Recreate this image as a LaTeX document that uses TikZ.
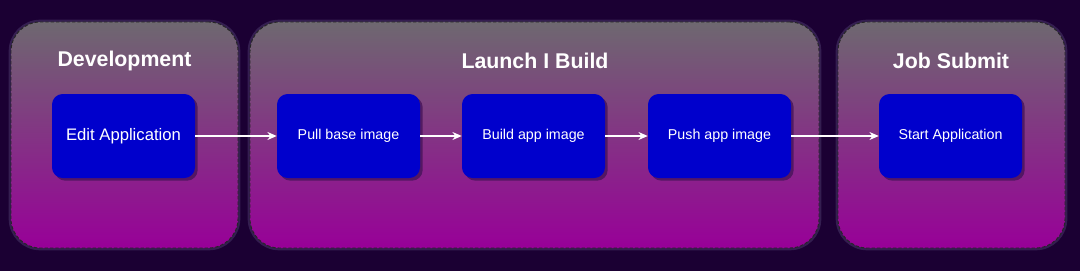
\documentclass[tikz,border=0pt]{standalone}
\usepackage{fontspec}
\setmainfont{Liberation Sans}
\usepackage{tikz}
\usetikzlibrary{arrows.meta,positioning,shadows}
\definecolor{pagebg}{RGB}{27,0,51}
\definecolor{grptop}{RGB}{110,104,112}
\definecolor{grpbot}{RGB}{152,0,152}
\definecolor{grpglow}{RGB}{70,50,100}
\definecolor{stepblue}{RGB}{0,0,204}
\definecolor{stepshadow}{RGB}{70,20,90}
\tikzset{
  stagebox/.style={draw=black!85, dash pattern=on 2.5pt off 1.5pt, line width=0.7pt, rounded corners=22pt,
    preaction={draw=grpglow, solid, line width=3.5pt, opacity=0.6},
    top color=grptop, bottom color=grpbot, minimum height=169.5pt, inner sep=0pt},
  stagetitle/.style={text=white, font=\fontsize{16}{19}\selectfont\bfseries, inner sep=0pt},
  stepbox/.style={fill=stepblue, rounded corners=8pt, minimum width=107.25pt, minimum height=63pt,
    text=white, align=center, inner sep=2pt, font=\fontsize{10.7}{13}\selectfont,
    drop shadow={shadow xshift=2pt, shadow yshift=-2pt, fill=stepshadow, opacity=0.8}},
  flowline/.style={-{Stealth[length=7pt,width=6pt]}, draw=white, line width=0.9pt}
}
\begin{document}
\begin{tikzpicture}[x=0.75pt,y=-0.75pt]
  \fill[pagebg] (0,0) rectangle (1080,271);
  \useasboundingbox (0,0) rectangle (1080,271);

  % stages
  \node[stagebox, minimum width=170.25pt] (dev) at (124.5,135) {};
  \node[stagebox, minimum width=426.75pt] (launch) at (534.5,135) {};
  \node[stagebox, minimum width=170.25pt] (job) at (951.5,135) {};
  \node[stagetitle] (devtitle) at (124.5,61) {Development};
  \node[stagetitle] (launchtitle) at (535,61) {Launch I Build};
  \node[stagetitle] (jobtitle) at (951,61) {Job Submit};

  % steps
  \node[stepbox, font=\fontsize{12.5}{15}\selectfont] (edit) at (123.5,136) {Edit Application};
  \node[stepbox] (pull) at (348.5,136) {Pull base image};
  \node[stepbox] (build) at (533.5,136) {Build app image};
  \node[stepbox] (push) at (719.5,136) {Push app image};
  \node[stepbox] (start) at (950.5,136) {Start Application};

  \draw[flowline] (edit.east) -- (pull.west);
  \draw[flowline] (pull.east) -- (build.west);
  \draw[flowline] (build.east) -- (push.west);
  \draw[flowline] (push.east) -- (start.west);
\end{tikzpicture}
\end{document}
